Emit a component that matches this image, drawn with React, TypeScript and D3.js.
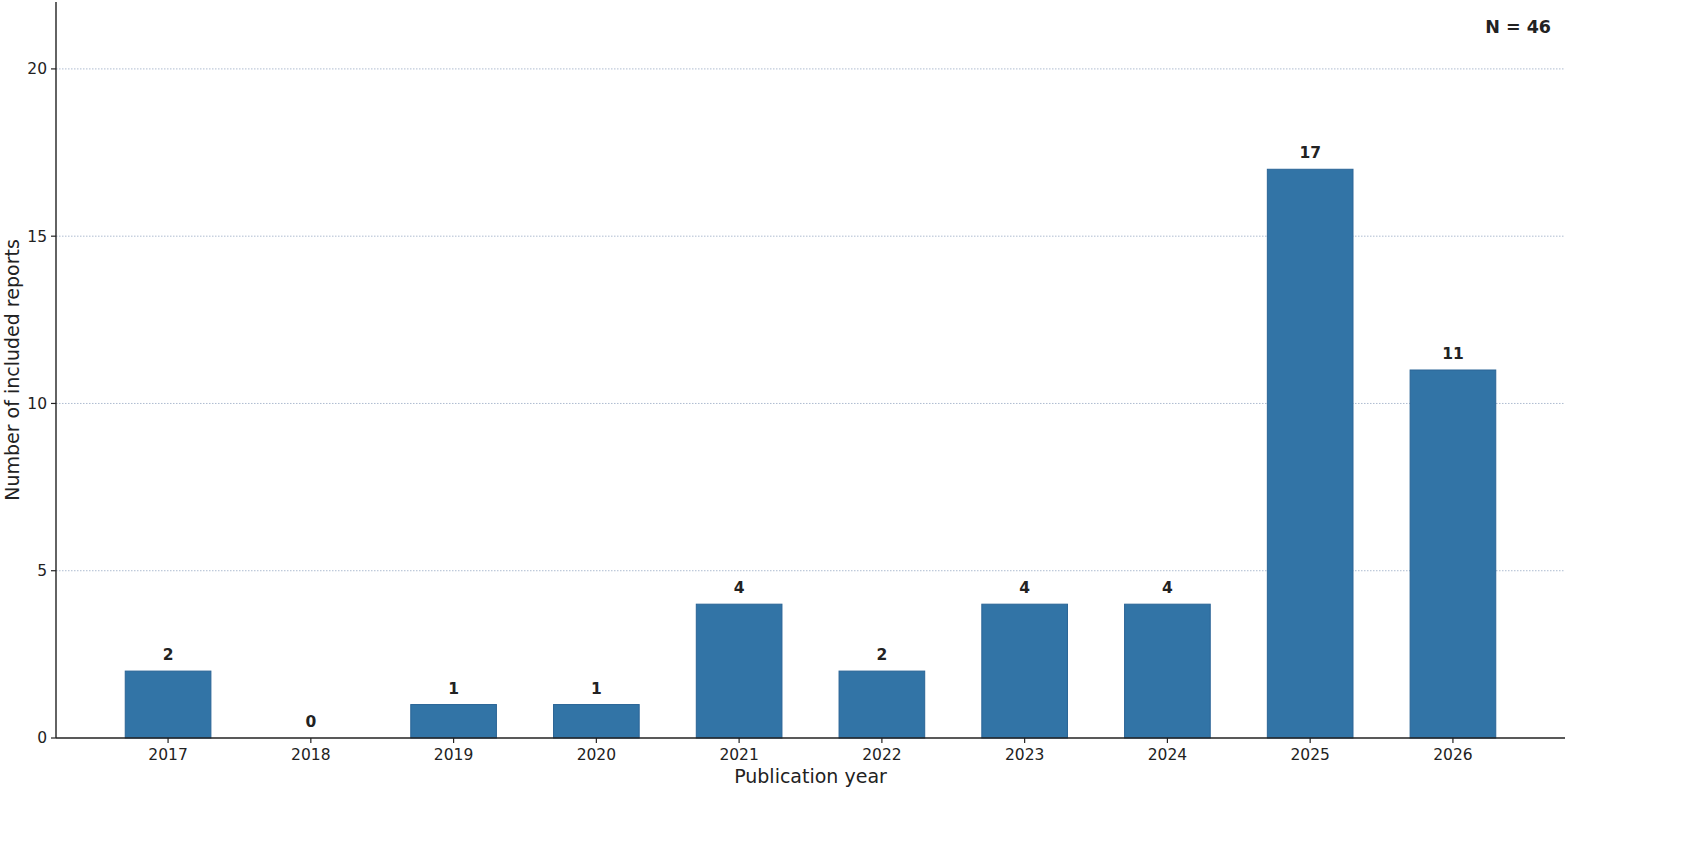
import React from 'react';
import * as d3 from 'd3';

const years = ['2017', '2018', '2019', '2020', '2021', '2022', '2023', '2024', '2025', '2026'];
const reports = [2, 0, 1, 1, 4, 2, 4, 4, 17, 11];
const yTicks = [0, 5, 10, 15, 20];
const totalLabel = 'N = 46';

const W = 1701;
const H = 858;
const margin = { left: 56, right: 136, top: 2, bottom: 120 };

export default function App() {
  const innerW = W - margin.left - margin.right;
  const innerH = H - margin.top - margin.bottom;

  // index positions, padded like matplotlib's default margins
  const x = d3.scaleLinear().domain([-0.785, 9.785]).range([0, innerW]);
  const y = d3.scaleLinear().domain([0, 22]).range([innerH, 0]);
  const barW = x(0.6) - x(0);
  const font = 'DejaVu Sans, sans-serif';

  return (
    <svg width={W} height={H} style={{ position: 'absolute', left: 0, top: 0, background: '#fff' }}>
      <g transform={`translate(${margin.left},${margin.top})`}>
        {/* grid */}
        {yTicks.slice(1).map((t) => (
          <line key={t} x1={0} x2={innerW} y1={y(t)} y2={y(t)} stroke="#aebcd0" strokeWidth={1} strokeDasharray="1.5,1.5" />
        ))}
        {/* bars */}
        {reports.map((v, i) => (
          <g key={years[i]}>
            {v > 0 && (
              <rect x={x(i) - barW / 2} y={y(v)} width={barW} height={y(0) - y(v)} fill="#3274a6" stroke="#2a6496" strokeWidth={1} />
            )}
            <text x={x(i)} y={y(v) - 11} textAnchor="middle" fontFamily={font} fontSize={15.5} fontWeight="bold" fill="#222">
              {v}
            </text>
          </g>
        ))}
        {/* axes */}
        <line x1={0} x2={0} y1={0} y2={innerH} stroke="#222" strokeWidth={1.4} />
        <line x1={0} x2={innerW} y1={innerH} y2={innerH} stroke="#222" strokeWidth={1.4} />
        {yTicks.map((t) => (
          <g key={t} transform={`translate(0,${y(t)})`}>
            <line x1={-5} x2={0} stroke="#222" strokeWidth={1.2} />
            <text x={-9} dy="0.35em" textAnchor="end" fontFamily={font} fontSize={15.5} fill="#222">{t}</text>
          </g>
        ))}
        {years.map((yr, i) => (
          <g key={yr} transform={`translate(${x(i)},${innerH})`}>
            <line y1={0} y2={5} stroke="#222" strokeWidth={1.2} />
            <text y={22} textAnchor="middle" fontFamily={font} fontSize={15.5} fill="#222">{yr}</text>
          </g>
        ))}
        <text x={innerW / 2} y={innerH + 45} textAnchor="middle" fontFamily={font} fontSize={19} fill="#222">
          Publication year
        </text>
        <text transform={`translate(${-37},${innerH / 2}) rotate(-90)`} textAnchor="middle" fontFamily={font} fontSize={19} fill="#222">
          Number of included reports
        </text>
        <text x={innerW - 14} y={31} textAnchor="end" fontFamily={font} fontSize={17.5} fontWeight="bold" fill="#222">
          {totalLabel}
        </text>
      </g>
    </svg>
  );
}
